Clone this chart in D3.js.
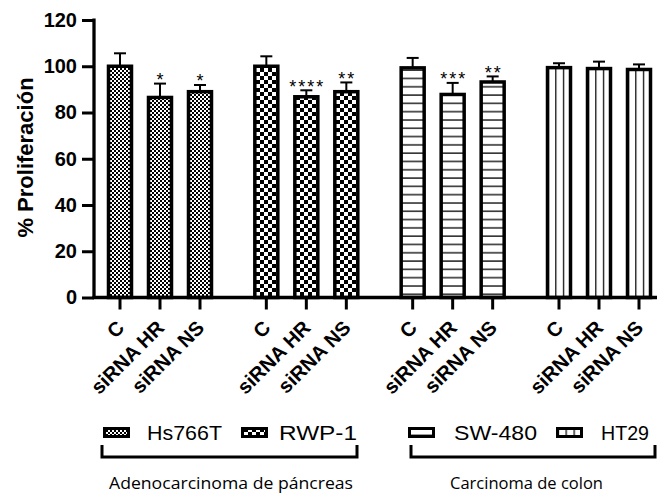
<!DOCTYPE html>
<html>
<head>
<meta charset="utf-8">
<script src="https://cdn.jsdelivr.net/npm/d3@7"></script>
<style>
  html, body { margin: 0; padding: 0; background: #fff; }
  svg { display: block; }
</style>
</head>
<body>
<script>
// ---------------- data ----------------
const categories = ["C", "siRNA HR", "siRNA NS"];
const cellLines = ["Hs766T", "RWP-1", "SW-480", "HT29"];
const valuesHs766T = [100, 86.5, 89.0];
const valuesRWP1   = [100, 86.8, 89.0];
const valuesSW480  = [99.3, 87.8, 93.2];
const valuesHT29   = [99.4, 99.0, 98.6];
const errorsHs766T = [5.6, 6.0, 2.9];
const errorsRWP1   = [4.3, 2.8, 4.0];
const errorsSW480  = [4.3, 5.0, 2.4];
const errorsHT29   = [1.9, 3.0, 2.2];
const starsHs766T = ["", "*", "*"];
const starsRWP1   = ["", "****", "**"];
const starsSW480  = ["", "***", "**"];
const starsHT29   = ["", "", ""];
const yTicks = [0, 20, 40, 60, 80, 100, 120];
const yTitle = "% Proliferación";
const groupTitles = ["Adenocarcinoma de páncreas", "Carcinoma de colon"];

const seriesValues = [valuesHs766T, valuesRWP1, valuesSW480, valuesHT29];
const seriesErrors = [errorsHs766T, errorsRWP1, errorsSW480, errorsHT29];
const seriesStars = [starsHs766T, starsRWP1, starsSW480, starsHT29];
const patternIds = ["p-hs", "p-rwp", "p-sw", "p-ht"];

const rows = [];
cellLines.forEach((line, gi) => {
  categories.forEach((cat, ci) => {
    rows.push({ line, cat, gi, value: seriesValues[gi][ci], err: seriesErrors[gi][ci], stars: seriesStars[gi][ci] });
  });
});

// ---------------- setup ----------------
const W = 657, H = 497;
const svg = d3.select("body").append("svg").attr("width", W).attr("height", H);
const defs = svg.append("defs");

// patterns
{
  const p1 = defs.append("pattern").attr("id", "p-hs").attr("patternUnits", "userSpaceOnUse").attr("width", 4).attr("height", 4);
  p1.append("rect").attr("width", 4).attr("height", 4).attr("fill", "#fff");
  p1.append("rect").attr("width", 2).attr("height", 2).attr("fill", "#000");
  p1.append("rect").attr("x", 2).attr("y", 2).attr("width", 2).attr("height", 2).attr("fill", "#000");

  const p2 = defs.append("pattern").attr("id", "p-rwp").attr("patternUnits", "userSpaceOnUse").attr("width", 8).attr("height", 8);
  p2.append("rect").attr("width", 8).attr("height", 8).attr("fill", "#fff");
  p2.append("rect").attr("width", 4).attr("height", 4).attr("fill", "#000");
  p2.append("rect").attr("x", 4).attr("y", 4).attr("width", 4).attr("height", 4).attr("fill", "#000");

  const p3 = defs.append("pattern").attr("id", "p-sw").attr("patternUnits", "userSpaceOnUse").attr("width", 8).attr("height", 8.3);
  p3.append("rect").attr("width", 8).attr("height", 8.3).attr("fill", "#fff");
  p3.append("rect").attr("y", 3).attr("width", 8).attr("height", 1.6).attr("fill", "#333");

  const p4 = defs.append("pattern").attr("id", "p-ht").attr("patternUnits", "objectBoundingBox").attr("width", 1 / 3).attr("height", 1);
  p4.append("rect").attr("width", 100).attr("height", 1000).attr("fill", "#fff");
  p4.append("rect").attr("x", 0).attr("width", 1.3).attr("height", 1000).attr("fill", "#111");
}

// scales
const y = d3.scaleLinear().domain([0, 120]).range([297.5, 20]);
const gx = d3.scaleBand().domain(cellLines).range([100, 659]).paddingInner(0.18).paddingOuter(0);
const ix = d3.scaleBand().domain(categories).range([0, gx.bandwidth()]);
const cx = d => gx(d.line) + ix(d.cat) + ix.bandwidth() / 2;
const barW = 23;
const axisX = 94;
const boldFont = "'Liberation Sans', Arial, sans-serif";

// bars
svg.append("g").selectAll("rect").data(rows).join("rect")
  .attr("x", d => cx(d) - barW / 2)
  .attr("y", d => y(d.value))
  .attr("width", barW)
  .attr("height", d => y(0) - y(d.value))
  .attr("fill", d => `url(#${patternIds[d.gi]})`)
  .attr("stroke", "#000")
  .attr("stroke-width", 3.5);

// error bars
const eb = svg.append("g").attr("stroke", "#000").attr("stroke-width", 2);
eb.selectAll("line.v").data(rows).join("line").attr("class", "v")
  .attr("x1", cx).attr("x2", cx)
  .attr("y1", d => y(d.value)).attr("y2", d => y(d.value + d.err));
eb.selectAll("line.c").data(rows).join("line").attr("class", "c")
  .attr("x1", d => cx(d) - 6).attr("x2", d => cx(d) + 6)
  .attr("y1", d => y(d.value + d.err)).attr("y2", d => y(d.value + d.err));

// significance stars
svg.append("g").selectAll("text").data(rows.filter(d => d.stars)).join("text")
  .attr("x", d => cx(d))
  .attr("y", d => y(d.value + d.err) + 2.5)
  .attr("dx", d => d.stars.length > 1 ? 1 : 0)
  .attr("text-anchor", "middle")
  .style("font-family", boldFont)
  .style("font-size", "18px")
  .attr("letter-spacing", d => d.stars.length > 1 ? 2 : 0)
  .text(d => d.stars);

// y axis
const yAxis = svg.append("g").attr("transform", `translate(${axisX},0)`)
  .call(d3.axisLeft(y).tickValues(yTicks).tickSize(12).tickSizeOuter(0).tickPadding(5));
yAxis.select(".domain").attr("stroke-width", 3.3).attr("d", `M0,${y(120) - 1.5}V${y(0) + 1.6}`);
yAxis.selectAll(".tick line").attr("stroke-width", 3);
yAxis.selectAll(".tick text")
  .style("font-family", boldFont)
  .style("font-weight", "bold")
  .style("font-size", "20px")
  .attr("fill", "#000");

// x axis
svg.append("line").attr("x1", axisX - 1.5).attr("x2", W).attr("y1", y(0)).attr("y2", y(0))
  .attr("stroke", "#000").attr("stroke-width", 3.3);
svg.append("g").selectAll("line").data(rows).join("line")
  .attr("x1", cx).attr("x2", cx).attr("y1", y(0)).attr("y2", y(0) + 12)
  .attr("stroke", "#000").attr("stroke-width", 3);
svg.append("g").selectAll("text").data(rows).join("text")
  .attr("transform", d => `translate(${cx(d) + 5.5},${y(0) + 31.5}) rotate(-45)`)
  .attr("text-anchor", "end")
  .style("font-family", boldFont)
  .style("font-weight", "bold")
  .style("font-size", "20px")
  .text(d => d.cat);

// y title
svg.append("text")
  .attr("transform", `translate(33,157.5) rotate(-90)`)
  .attr("text-anchor", "middle")
  .style("font-family", boldFont)
  .style("font-weight", "bold")
  .style("font-size", "22px")
  .text(yTitle);

// legend
const legendItems = [
  { name: cellLines[0], pid: patternIds[0], sx: 104.5, tx: 147, tl: 75 },
  { name: cellLines[1], pid: patternIds[1], sx: 242.5, tx: 279, tl: 78 },
  { name: cellLines[2], pid: patternIds[2], sx: 409.5, tx: 454, tl: 83 },
  { name: cellLines[3], pid: patternIds[3], sx: 557.5, tx: 601, tl: 48 }
];
const lg = svg.append("g");
lg.selectAll("rect").data(legendItems).join("rect")
  .attr("x", d => d.sx).attr("y", 428.5).attr("width", 24).attr("height", 8)
  .attr("fill", d => `url(#${d.pid})`).attr("stroke", "#000").attr("stroke-width", 3);
lg.selectAll("text").data(legendItems).join("text")
  .attr("x", d => d.tx).attr("y", 440)
  .style("font-family", boldFont)
  .style("font-size", "21px")
  .attr("textLength", d => d.tl).attr("lengthAdjust", "spacingAndGlyphs")
  .text(d => d.name);

// brackets
svg.append("path").attr("d", "M102,445V457H357V445").attr("fill", "none").attr("stroke", "#000").attr("stroke-width", 3);
svg.append("path").attr("d", "M411,445V457H655V445").attr("fill", "none").attr("stroke", "#000").attr("stroke-width", 3);

// group titles
svg.append("text").attr("x", 231).attr("y", 489).attr("text-anchor", "middle")
  .style("font-family", "'Open Sans', 'Noto Sans', sans-serif").style("font-size", "16.5px")
  .attr("textLength", 244).attr("lengthAdjust", "spacingAndGlyphs")
  .text(groupTitles[0]);
svg.append("text").attr("x", 526.5).attr("y", 489).attr("text-anchor", "middle")
  .style("font-family", "'Open Sans', 'Noto Sans', sans-serif").style("font-size", "16.5px")
  .attr("textLength", 153).attr("lengthAdjust", "spacingAndGlyphs")
  .text(groupTitles[1]);
</script>
</body>
</html>
